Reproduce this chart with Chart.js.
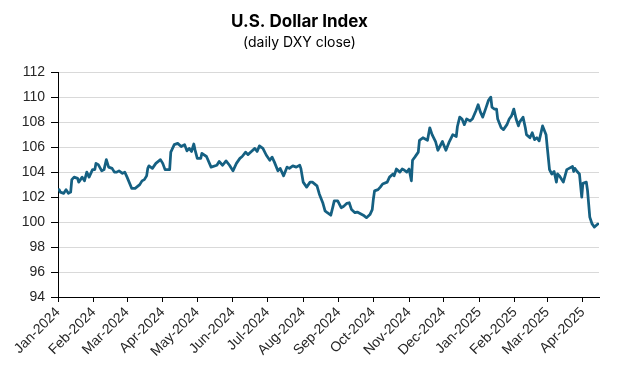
<!DOCTYPE html>
<html>
<head>
<meta charset="utf-8">
<script src="https://cdn.jsdelivr.net/npm/chart.js@4.4.1/dist/chart.umd.min.js"></script>
<style>
  html, body { margin: 0; padding: 0; background: #fff; }
</style>
</head>
<body>
<canvas id="chart" width="624" height="375"></canvas>
<script>
// data
const dates = [
  '2024-01-02','2024-01-03','2024-01-06','2024-01-08','2024-01-10','2024-01-12','2024-01-13','2024-01-15',
  '2024-01-18','2024-01-19','2024-01-22','2024-01-24','2024-01-26','2024-01-28','2024-01-31','2024-02-02',
  '2024-02-03','2024-02-05','2024-02-08','2024-02-10','2024-02-12','2024-02-14','2024-02-17','2024-02-19',
  '2024-02-21','2024-02-23','2024-02-26','2024-02-28','2024-03-01','2024-03-05','2024-03-08','2024-03-12',
  '2024-03-14','2024-03-16','2024-03-18','2024-03-19','2024-03-20','2024-03-23','2024-03-26','2024-03-30',
  '2024-04-01','2024-04-03','2024-04-07','2024-04-08','2024-04-11','2024-04-14','2024-04-17','2024-04-20',
  '2024-04-22','2024-04-24','2024-04-26','2024-04-28','2024-04-29','2024-05-01','2024-05-04','2024-05-05',
  '2024-05-09','2024-05-13','2024-05-18','2024-05-20','2024-05-23','2024-05-26','2024-05-29','2024-06-01',
  '2024-06-04','2024-06-07','2024-06-09','2024-06-12','2024-06-14','2024-06-17','2024-06-20','2024-06-22',
  '2024-06-24','2024-06-27','2024-06-30','2024-07-03','2024-07-05','2024-07-07','2024-07-10','2024-07-12',
  '2024-07-15','2024-07-18','2024-07-20','2024-07-23','2024-07-26','2024-07-29','2024-07-30','2024-08-01',
  '2024-08-04','2024-08-07','2024-08-09','2024-08-13','2024-08-15','2024-08-18','2024-08-20','2024-08-22',
  '2024-08-25','2024-08-27','2024-08-28','2024-08-31','2024-09-03','2024-09-05','2024-09-08','2024-09-10',
  '2024-09-12','2024-09-15','2024-09-17','2024-09-21','2024-09-23','2024-09-25','2024-09-28','2024-09-30',
  '2024-10-01','2024-10-02','2024-10-05','2024-10-07','2024-10-09','2024-10-13','2024-10-15','2024-10-18',
  '2024-10-19','2024-10-21','2024-10-24','2024-10-26','2024-10-28','2024-10-30','2024-11-01','2024-11-03',
  '2024-11-04','2024-11-06','2024-11-09','2024-11-10','2024-11-13','2024-11-17','2024-11-19','2024-11-21',
  '2024-11-24','2024-11-26','2024-11-30','2024-12-01','2024-12-03','2024-12-06','2024-12-09','2024-12-12',
  '2024-12-13','2024-12-15','2024-12-17','2024-12-19','2024-12-21','2024-12-24','2024-12-26','2024-12-29',
  '2024-12-31','2025-01-02','2025-01-04','2025-01-07','2025-01-09','2025-01-11','2025-01-12','2025-01-14',
  '2025-01-16','2025-01-17','2025-01-20','2025-01-22','2025-01-25','2025-01-27','2025-01-29','2025-01-31',
  '2025-02-02','2025-02-04','2025-02-05','2025-02-08','2025-02-10','2025-02-11','2025-02-14','2025-02-16',
  '2025-02-18','2025-02-20','2025-02-22','2025-02-24','2025-02-25','2025-02-28','2025-03-01','2025-03-03',
  '2025-03-05','2025-03-07','2025-03-09','2025-03-10','2025-03-12','2025-03-15','2025-03-18','2025-03-20',
  '2025-03-23','2025-03-24','2025-03-25','2025-03-27','2025-03-29','2025-03-31','2025-04-01','2025-04-04',
  '2025-04-05','2025-04-07','2025-04-09','2025-04-11','2025-04-14'
];
const dxy = [
  102.6,102.4,102.3,102.6,102.3,102.4,103.4,103.6,
  103.5,103.2,103.6,103.3,104.0,103.6,104.2,104.2,
  104.7,104.6,104.1,104.2,105.0,104.4,104.3,104.0,
  104.0,104.1,103.9,104.0,103.6,102.7,102.7,103.0,
  103.3,103.4,103.7,104.3,104.5,104.3,104.7,105.0,
  104.7,104.2,104.2,105.6,106.2,106.3,106.05,106.2,
  105.7,105.9,105.65,106.25,105.8,105.1,105.1,105.5,
  105.25,104.4,104.55,104.85,104.55,104.9,104.55,104.1,
  104.7,105.1,105.25,105.6,105.4,105.65,105.9,105.65,
  106.1,105.9,105.35,104.95,105.2,104.8,104.1,104.3,
  103.7,104.4,104.3,104.5,104.4,104.55,104.3,103.2,
  102.8,103.2,103.2,102.9,102.25,101.55,100.9,100.75,
  100.55,101.3,101.7,101.7,101.15,101.25,101.5,101.55,
  101.0,100.75,100.8,100.6,100.5,100.35,100.6,101.0,
  101.85,102.5,102.6,102.8,103.05,103.2,103.6,103.85,
  103.7,104.25,104.0,104.25,104.15,104.0,104.25,103.3,
  104.95,105.2,105.6,106.55,106.75,106.55,107.55,107.0,
  106.45,105.75,106.45,106.2,105.75,106.45,107.0,106.85,
  107.65,108.4,108.25,107.8,108.25,108.1,108.25,108.9,
  109.4,108.8,108.4,109.2,109.75,110.0,109.2,109.05,
  109.05,108.25,107.55,107.4,107.8,108.25,108.5,109.05,
  108.25,107.7,108.0,108.4,107.55,107.0,106.75,107.15,
  106.6,106.75,106.5,107.3,107.7,107.0,106.05,104.2,
  103.85,104.05,103.2,103.85,103.65,103.2,104.2,104.3,
  104.45,104.05,104.3,104.05,103.85,102.0,103.1,103.2,
  102.55,100.4,99.85,99.6,99.85
];
const monthStarts = [
  '2024-01-01','2024-02-01','2024-03-01','2024-04-01','2024-05-01','2024-06-01','2024-07-01','2024-08-01',
  '2024-09-01','2024-10-01','2024-11-01','2024-12-01','2025-01-01','2025-02-01','2025-03-01','2025-04-01'
];
const monthLabels = [
  'Jan-2024','Feb-2024','Mar-2024','Apr-2024','May-2024','Jun-2024','Jul-2024','Aug-2024',
  'Sep-2024','Oct-2024','Nov-2024','Dec-2024','Jan-2025','Feb-2025','Mar-2025','Apr-2025'
];
const axisStart = '2024-01-01';
const axisEnd = '2025-04-15';

const DAY = 86400000;
const dayNum = d => Math.round((Date.parse(d) - Date.parse(axisStart)) / DAY);

const points = dates.map((d, i) => ({x: dayNum(d), y: dxy[i]}));
const monthDays = monthStarts.map(dayNum);

const tickFont = {family: '"Liberation Sans", Arial, sans-serif', size: 14};
const tickColor = '#262626';

const ctx = document.getElementById('chart');
new Chart(ctx, {
  type: 'line',
  data: {
    datasets: [{
      data: points,
      borderColor: '#156082',
      borderWidth: 2.75,
      borderJoinStyle: 'round',
      borderCapStyle: 'round',
      pointRadius: 0,
      tension: 0,
      fill: false
    }]
  },
  options: {
    responsive: false,
    devicePixelRatio: 1,
    animation: false,
    layout: {padding: {top: 0, right: 25, bottom: 0, left: 0}},
    scales: {
      x: {
        type: 'linear',
        min: 0,
        max: dayNum(axisEnd),
        afterBuildTicks: s => { s.ticks = monthDays.map(v => ({value: v})); },
        afterFit: s => { s.height = 78; },
        ticks: {
          autoSkip: false,
          minRotation: 45,
          maxRotation: 45,
          padding: 2,
          font: tickFont,
          color: tickColor,
          callback: (v, i) => monthLabels[i]
        },
        grid: {drawOnChartArea: false, tickColor: '#000', tickLength: 5},
        border: {color: '#000', width: 1}
      },
      y: {
        min: 94,
        max: 112,
        afterFit: s => { s.width = 58; },
        ticks: {stepSize: 2, padding: 6, font: tickFont, color: tickColor},
        grid: {
          color: c => c.tick && c.tick.value === 94 ? 'rgba(0,0,0,0)' : '#d9d9d9',
          tickColor: '#000',
          tickLength: 7,
          lineWidth: 1
        },
        border: {color: '#000', width: 1}
      }
    },
    plugins: {
      legend: {display: false},
      tooltip: {enabled: false},
      title: {
        display: true,
        text: 'U.S. Dollar Index',
        color: '#000',
        font: {family: 'Inter, sans-serif', size: 17, weight: 'bold'},
        padding: {top: 12, bottom: 2}
      },
      subtitle: {
        display: true,
        text: '(daily DXY close)',
        color: '#000',
        font: {family: 'Inter, sans-serif', size: 14, weight: 'normal'},
        padding: {top: 0, bottom: 21}
      }
    }
  }
});
</script>
</body>
</html>
